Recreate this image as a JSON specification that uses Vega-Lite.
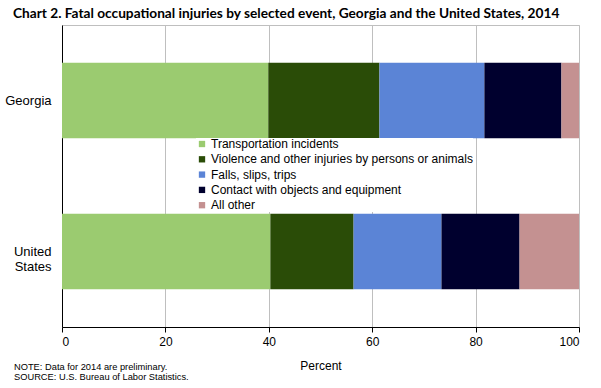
{
  "$schema": "https://vega.github.io/schema/vega-lite/v6.json",
  "padding": {"left": 4, "top": 6, "right": 0, "bottom": 0},
  "background": "white",
  "title": {
    "text": "Chart 2. Fatal occupational injuries by selected event, Georgia and the United States, 2014",
    "anchor": "start",
    "frame": "group",
    "dx": -49,
    "font": "Lato",
    "fontSize": 13.7,
    "fontWeight": "bold",
    "color": "#000000",
    "offset": 4
  },
  "data": {
    "values": [
      {"area": "Georgia", "event": "Transportation incidents", "order": 1, "percent": 39.9},
      {"area": "Georgia", "event": "Violence and other injuries by persons or animals", "order": 2, "percent": 21.5},
      {"area": "Georgia", "event": "Falls, slips, trips", "order": 3, "percent": 20.3},
      {"area": "Georgia", "event": "Contact with objects and equipment", "order": 4, "percent": 14.9},
      {"area": "Georgia", "event": "All other", "order": 5, "percent": 3.4},
      {"area": "United States", "event": "Transportation incidents", "order": 1, "percent": 40.3},
      {"area": "United States", "event": "Violence and other injuries by persons or animals", "order": 2, "percent": 16.1},
      {"area": "United States", "event": "Falls, slips, trips", "order": 3, "percent": 17.0},
      {"area": "United States", "event": "Contact with objects and equipment", "order": 4, "percent": 15.1},
      {"area": "United States", "event": "All other", "order": 5, "percent": 11.5}
    ]
  },
  "vconcat": [
    {
      "width": 517,
      "height": 302,
      "title": {
        "text": ["NOTE: Data for 2014 are preliminary.", "SOURCE: U.S. Bureau of Labor Statistics."],
        "orient": "bottom",
        "anchor": "start",
        "frame": "group",
        "dx": -48,
        "dy": -12,
        "font": "Liberation Sans",
        "fontSize": 9.3,
        "fontWeight": "normal",
        "lineHeight": 10,
        "color": "#000000"
      },
      "mark": {"type": "bar"},
      "encoding": {
        "y": {
          "field": "area",
          "type": "nominal",
          "sort": ["Georgia", "United States"],
          "scale": {"paddingInner": 0.5, "paddingOuter": 0.25},
          "axis": {
            "title": null,
            "ticks": false,
            "domainColor": "#000000",
            "labelFont": "Liberation Sans",
            "labelFontSize": 13,
            "labelColor": "#000000",
            "labelPadding": 11,
            "labelLineHeight": 15,
            "labelExpr": "datum.value == 'United States' ? ['United', 'States'] : datum.value",
            "grid": false
          }
        },
        "x": {
          "field": "percent",
          "type": "quantitative",
          "stack": "zero",
          "scale": {"domain": [0, 100], "nice": false},
          "axis": {
            "title": "Percent",
            "values": [0, 20, 40, 60, 80, 100],
            "titleFont": "Liberation Sans",
            "titleFontSize": 12,
            "titleFontWeight": "normal",
            "titleColor": "#000000",
            "titlePadding": 13,
            "labelFont": "Liberation Sans",
            "labelFontSize": 12,
            "labelColor": "#000000",
            "labelPadding": 4,
            "domainColor": "#000000",
            "tickColor": "#000000",
            "tickSize": 5,
            "grid": true,
            "gridColor": "#bfbfbf",
            "gridWidth": 1
          }
        },
        "color": {
          "field": "event",
          "type": "nominal",
          "sort": ["Transportation incidents", "Violence and other injuries by persons or animals", "Falls, slips, trips", "Contact with objects and equipment", "All other"],
          "scale": {
            "domain": ["Transportation incidents", "Violence and other injuries by persons or animals", "Falls, slips, trips", "Contact with objects and equipment", "All other"],
            "range": ["#9bcb70", "#2a4c07", "#5b84d6", "#00002e", "#c49191"]
          },
          "legend": {
            "title": null,
            "orient": "none",
            "legendX": 134,
            "legendY": 113,
            "symbolType": "square",
            "symbolSize": 40,
            "symbolStrokeWidth": 0,
            "labelFont": "Liberation Sans",
            "labelFontSize": 12,
            "labelColor": "#000000",
            "labelOffset": 3,
            "labelLimit": 400,
            "rowPadding": 3.3,
            "padding": 0,
            "fillColor": "white"
          }
        },
        "order": {"field": "order", "type": "quantitative"}
      }
    }
  ],
  "config": {
    "view": {"stroke": "#bfbfbf", "strokeWidth": 1},
    "axis": {"domainWidth": 1}
  }
}
